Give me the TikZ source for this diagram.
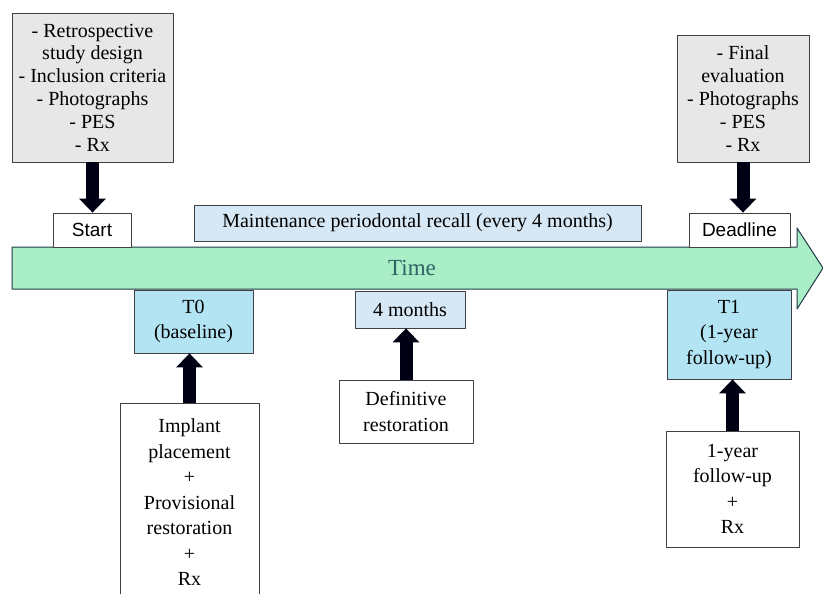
\documentclass[tikz,border=0pt]{standalone}
\usepackage{fontspec}
\setmainfont{Liberation Serif}
\setsansfont{Liberation Sans}
\usetikzlibrary{arrows.meta}
\definecolor{boxgray}{HTML}{E7E7E7}
\definecolor{paleblue}{HTML}{D6E8F5}
\definecolor{skyblue}{HTML}{B3E4F4}
\definecolor{mint}{HTML}{A9EEC6}
\definecolor{deepnavy}{HTML}{1F3A48}
\definecolor{timeteal}{HTML}{2F6264}
\begin{document}
\begin{tikzpicture}[x=1pt,y=-1pt,line join=round,
	box/.style={draw=black!75,line width=0.8pt,align=center,inner sep=1pt,font=\fontsize{20}{25.5}\selectfont},
	graybox/.style={box,fill=boxgray,font=\fontsize{20}{22.8}\selectfont},
	sansbox/.style={box,fill=white,font=\sffamily\fontsize{19}{21}\selectfont},
	blockarrow/.style={line width=13pt,draw=black!92!blue,-{Triangle[width=26pt,length=14pt]}}]
	\useasboundingbox (0,0) rectangle (823,594);
	\clip (0,0) rectangle (823,594);
	% time line
	\draw[fill=mint,draw=deepnavy,line width=1pt] (12,247)--(797,247)--(797,228)--(823,268)--(797,309)--(797,289)--(12,289)--cycle;
	\node[text=timeteal,font=\fontsize{23}{25}\selectfont] (time) at (412,268) {Time};
	% above the line
	\node[graybox,minimum width=161,minimum height=149] (gl) at (92.5,87.5) {- Retrospective\\study design\\- Inclusion criteria\\- Photographs\\- PES\\- Rx};
	\node[graybox,minimum width=132,minimum height=127] (gr) at (743,98.5) {- Final\\evaluation\\- Photographs\\- PES\\- Rx};
	\node[sansbox,minimum width=78,minimum height=34] (start) at (92,230) {Start};
	\node[sansbox,minimum width=101,minimum height=34] (deadline) at (739.5,230) {Deadline};
	\node[box,fill=paleblue,minimum width=447,minimum height=36] (recall) at (417.5,223) {Maintenance periodontal recall (every 4 months)};
	% below the line
	\node[box,fill=skyblue,minimum width=119,minimum height=63] (tzero) at (193.5,321.5) {T0\\(baseline)};
	\node[box,fill=paleblue,minimum width=110,minimum height=37] (months) at (410,309.5) {4 months};
	\node[box,fill=skyblue,minimum width=124,minimum height=89] (tone) at (729,334.5) {T1\\(1-year\\follow-up)};
	\node[box,fill=white,minimum width=139,minimum height=198,anchor=north] (implant) at (189.5,403) {Implant\\placement\\+\\Provisional\\restoration\\+\\Rx};
	\node[box,fill=white,minimum width=134,minimum height=63] (defin) at (406,411.5) {Definitive\\restoration};
	\node[box,fill=white,minimum width=133,minimum height=116] (oneyear) at (732.5,489) {1-year\\follow-up\\+\\Rx};
	% arrows
	\foreach \a/\b in {gl/start, gr/deadline} \draw[blockarrow] (\a.south) -- (\a.south |- \b.north);
	\foreach \a/\b in {implant/tzero, defin/months, oneyear/tone} \draw[blockarrow] (\a.north) -- (\a.north |- \b.south);
\end{tikzpicture}
\end{document}
